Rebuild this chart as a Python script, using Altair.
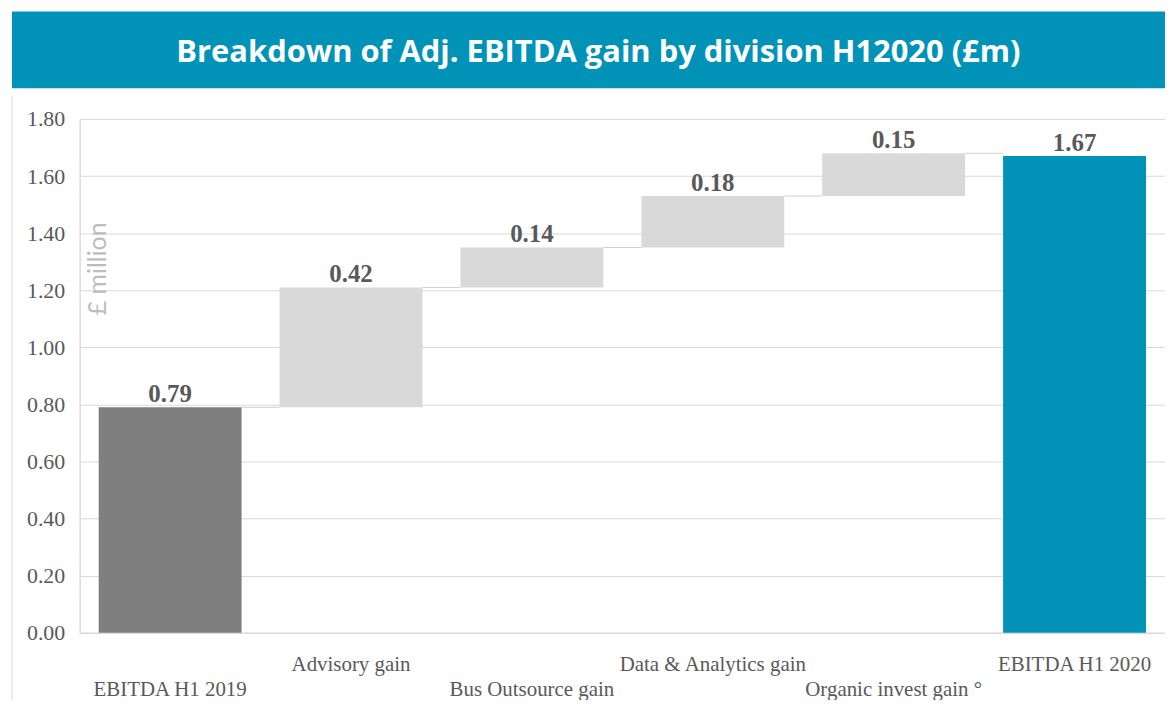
import json
import altair as alt
import pandas as pd

# ---- data ----
categories = ["EBITDA H1 2019", "Advisory gain", "Bus Outsource gain",
              "Data & Analytics gain", "Organic invest gain °", "EBITDA H1 2020"]
values = [0.79, 0.42, 0.14, 0.18, 0.15, 1.67]
kinds = ["start", "gain", "gain", "gain", "gain", "total"]
y_ticks = [0.0, 0.2, 0.4, 0.6, 0.8, 1.0, 1.2, 1.4, 1.6, 1.8]
title_text = "Breakdown of Adj. EBITDA gain by division H12020 (£m)"
y_title = "£ million"

# ---- build waterfall table ----
rows = []
cum = 0.0
for c, v, k in zip(categories, values, kinds):
    if k == "gain":
        base, top = cum, cum + v
    else:
        base, top = 0.0, v
    cum = top
    rows.append({"cat": c, "value": v, "kind": k, "base": base, "top": top})
df = pd.DataFrame(rows)

conn = pd.DataFrame([
    {"cat": rows[i]["cat"], "next": rows[i + 1]["cat"], "level": rows[i]["top"]}
    for i in range(len(rows) - 1)
])

W, H = 1090, 516
BLUE = "#0093B7"
x_scale = alt.Scale(domain=categories, paddingInner=0.21, paddingOuter=0.105)
y_scale = alt.Scale(domain=[0, 1.8], nice=False)

row_one = categories[1::2]
label_expr = (f"indexof({json.dumps(row_one, ensure_ascii=False)}, datum.value) >= 0"
              " ? datum.label : ['', datum.label]")

x_axis = alt.Axis(title=None, ticks=False, domain=True, domainColor="#d9d9d9",
                  labelAngle=0, labelAlign="center", labelFont="Liberation Serif",
                  labelFontSize=21, labelColor="#595959", labelPadding=21,
                  labelBaseline="top", labelLineHeight=25, labelLimit=400,
                  labelOverlap=False, labelExpr=label_expr)
y_axis = alt.Axis(values=y_ticks, format=".2f", ticks=False, domain=True,
                  domainColor="#d9d9d9", gridColor="#d9d9d9", gridWidth=1,
                  labelFont="Liberation Serif", labelFontSize=22, labelColor="#595959",
                  labelPadding=15, title=y_title, titleFont="Lato", titleFontSize=25,
                  titleFontWeight="normal", titleColor="#bdbdbd", titleAngle=-90,
                  titleX=6, titleY=150, titleAlign="center", titleBaseline="top")

base = alt.Chart(df)

bars = base.mark_bar(cornerRadius=0).encode(
    x=alt.X("cat:N", scale=x_scale, axis=x_axis, sort=categories),
    y=alt.Y("base:Q", scale=y_scale, axis=y_axis),
    y2="top:Q",
    color=alt.Color("kind:N", scale=alt.Scale(domain=["start", "gain", "total"],
                                               range=["#7f7f7f", "#d9d9d9", BLUE]),
                    legend=None),
)

connectors = alt.Chart(conn).mark_rule(color="#d0d0d0", strokeWidth=1).encode(
    x=alt.X("cat:N", scale=x_scale, sort=categories, bandPosition=1),
    x2=alt.X2("next:N", bandPosition=0),
    y=alt.Y("level:Q", scale=y_scale),
)

labels = base.mark_text(font="Liberation Serif", fontWeight="bold", fontSize=25,
                        color="#595959", baseline="alphabetic", dy=-5).encode(
    x=alt.X("cat:N", scale=x_scale, sort=categories),
    y=alt.Y("top:Q", scale=y_scale),
    text=alt.Text("value:Q", format=".2f"),
)

banner_df = pd.DataFrame({"t": [title_text]})
banner = alt.Chart(banner_df).mark_rect(color=BLUE).encode(
    x=alt.value(-68), x2=alt.value(W), y=alt.value(-108), y2=alt.value(-31))
banner_text = alt.Chart(banner_df).mark_text(
    font="Open Sans", fontWeight="bold", fontSize=31, color="white",
    align="center", baseline="alphabetic").encode(
    x=alt.value(521), y=alt.value(-57), text="t:N")

frame = alt.Chart(banner_df).mark_rule(color="#d9d9d9", strokeWidth=1).encode(
    x=alt.value(-68), y=alt.value(-23), y2=alt.value(584))

chart = alt.layer(banner, banner_text, frame, connectors, bars, labels).properties(
    width=W, height=H,
    autosize=alt.AutoSizeParams(type="none"),
    padding={"left": 72, "top": 110, "right": 0, "bottom": 66},
).configure_view(stroke=None).configure(background="white")

chart.save("out.html", embed_options={"renderer": "svg", "actions": False})
